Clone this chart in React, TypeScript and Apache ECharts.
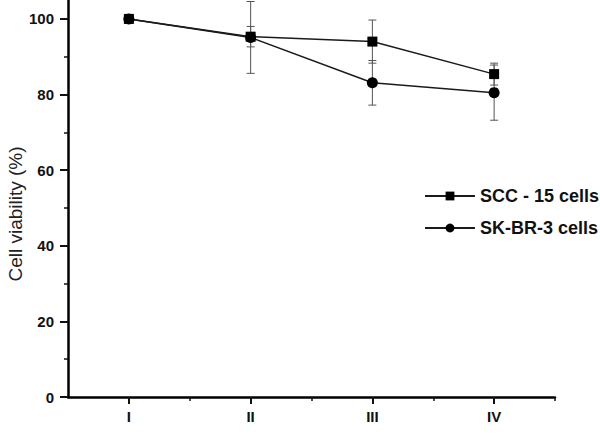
import React, { useEffect, useRef } from "react";
import * as echarts from "echarts";

const categories = ["I", "II", "III", "IV"];
const xPositions = [1, 2, 3, 4];
const sccValues = [100, 95.3, 94.0, 85.4];
const sccErrors = [0, 2.7, 5.7, 2.9];
const skbrValues = [100, 95.1, 83.1, 80.5];
const skbrErrors = [0, 9.5, 5.9, 7.3];
const yTicks = [0, 20, 40, 60, 80, 100];
const yMinorTicks = [10, 30, 50, 70, 90];
const xMinorTicks = [1.5, 2.5, 3.5, 4.5];
const seriesNames = ["SCC - 15 cells", "SK-BR-3 cells"];

const FONT = "'Liberation Sans', Arial, Helvetica, sans-serif";

export default function App() {
  const ref = useRef<HTMLDivElement>(null);
  useEffect(() => {
    if (!ref.current) return;
    const chart = echarts.init(ref.current, null, { renderer: "svg" });
    const sccData = xPositions.map((x, i) => [x, sccValues[i]]);
    const skbrData = xPositions.map((x, i) => [x, skbrValues[i]]);
    const errData = (vals: number[], errs: number[]) =>
      xPositions
        .map((x, i) => [x, vals[i] - errs[i], vals[i] + errs[i]])
        .filter((_, i) => errs[i] > 0);
    const errRender = (params: any, api: any) => {
      const x = api.value(0);
      const lo = api.coord([x, api.value(1)]);
      const hi = api.coord([x, api.value(2)]);
      const hw = 4;
      const style = { stroke: "#555", lineWidth: 1 };
      return {
        type: "group",
        children: [
          { type: "line", shape: { x1: lo[0], y1: lo[1], x2: hi[0], y2: hi[1] }, style },
          { type: "line", shape: { x1: lo[0] - hw, y1: lo[1], x2: lo[0] + hw, y2: lo[1] }, style },
          { type: "line", shape: { x1: hi[0] - hw, y1: hi[1], x2: hi[0] + hw, y2: hi[1] }, style },
        ],
      };
    };
    const axisLineStyle = { color: "#000", width: 2.5 };
    chart.setOption({
      animation: false,
      textStyle: { fontFamily: FONT },
      grid: { left: 68, right: 45, top: 0, bottom: 37 },
      legend: {
        orient: "vertical",
        left: 419,
        top: 182,
        itemWidth: 50,
        itemHeight: 11,
        itemGap: 14,
        data: seriesNames,
        textStyle: { fontSize: 18, fontWeight: "bold", color: "#111", fontFamily: FONT },
      },
      xAxis: [
        {
          type: "value",
          min: 0.5,
          max: 4.5,
          interval: 0.5,
          splitLine: { show: false },
          axisLine: { lineStyle: axisLineStyle },
          axisTick: {
            customValues: xPositions,
            length: 7,
            inside: false,
            lineStyle: { color: "#111", width: 2 },
          },
          axisLabel: {
            customValues: xPositions,
            formatter: (v: number) => categories[xPositions.indexOf(v)] ?? "",
            fontSize: 15,
            fontWeight: "bold",
            color: "#111",
            margin: 12,
            fontFamily: FONT,
          },
        },
        {
          type: "value",
          min: 0.5,
          max: 4.5,
          position: "bottom",
          splitLine: { show: false },
          axisLine: { show: false },
          axisTick: {
            customValues: xMinorTicks,
            length: 4,
            lineStyle: { color: "#111", width: 1.5 },
          },
          axisLabel: { show: false },
        },
      ],
      yAxis: [
        {
          type: "value",
          min: 0,
          max: 105,
          splitLine: { show: false },
          axisLine: { show: true, lineStyle: axisLineStyle },
          axisTick: {
            show: true,
            customValues: yTicks,
            length: 8,
            lineStyle: { color: "#111", width: 2 },
          },
          axisLabel: {
            customValues: yTicks,
            fontSize: 15,
            fontWeight: "bold",
            color: "#111",
            margin: 14,
            fontFamily: FONT,
          },
        },
        {
          type: "value",
          min: 0,
          max: 105,
          position: "left",
          splitLine: { show: false },
          axisLine: { show: false },
          axisTick: {
            show: true,
            customValues: yMinorTicks,
            length: 4,
            lineStyle: { color: "#111", width: 1.5 },
          },
          axisLabel: { show: false },
        },
      ],
      graphic: [
        {
          type: "text",
          x: 15,
          y: 214,
          rotation: Math.PI / 2,
          style: {
            text: "Cell viability (%)",
            fontSize: 19,
            fontFamily: FONT,
            fill: "#222",
            textAlign: "center",
            textVerticalAlign: "middle",
          },
        },
      ],
      series: [
        {
          type: "custom",
          renderItem: errRender,
          data: errData(sccValues, sccErrors),
          encode: { x: 0, y: [1, 2] },
          z: 1,
          silent: true,
        },
        {
          type: "custom",
          renderItem: errRender,
          data: errData(skbrValues, skbrErrors),
          encode: { x: 0, y: [1, 2] },
          z: 1,
          silent: true,
        },
        {
          name: seriesNames[0],
          type: "line",
          data: sccData,
          symbol: "rect",
          symbolSize: 10,
          lineStyle: { color: "#1a1a1a", width: 1.5 },
          itemStyle: { color: "#000" },
          z: 3,
        },
        {
          name: seriesNames[1],
          type: "line",
          data: skbrData,
          symbol: "circle",
          symbolSize: 11,
          lineStyle: { color: "#1a1a1a", width: 1.5 },
          itemStyle: { color: "#000" },
          z: 4,
        },
      ],
    });
    return () => chart.dispose();
  }, []);
  return (
    <div
      ref={ref}
      style={{ position: "fixed", left: 0, top: 0, width: 600, height: 434, background: "#fff" }}
    />
  );
}
